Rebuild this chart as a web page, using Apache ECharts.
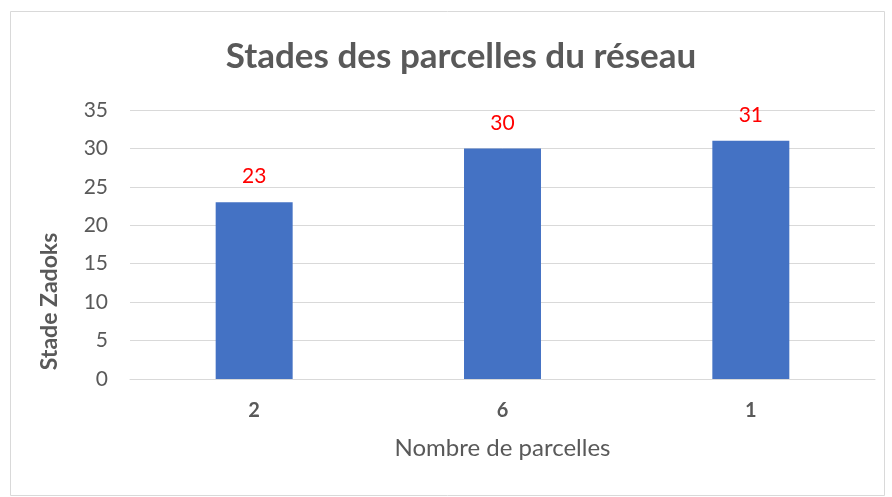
<!DOCTYPE html>
<html>
<head>
<meta charset="utf-8">
<script src="https://cdn.jsdelivr.net/npm/echarts@6/dist/echarts.min.js"></script>
<style>
  html, body { margin: 0; padding: 0; background: #fff; }
  #chart01 { width: 892px; height: 497px; }
</style>
</head>
<body>
<div id="chart01"></div>
<script>
// data
var categories = ['2', '6', '1'];
var stadeValues = [23, 30, 31];
var yTicks = { min: 0, max: 35, interval: 5 };

var chartDom = document.getElementById('chart01');
var chart = echarts.init(chartDom, null, { renderer: 'canvas' });

var font = 'Lato, "Open Sans", sans-serif';
var grey = '#595959';

var option = {
  backgroundColor: '#fff',
  textStyle: { fontFamily: font },
  title: {
    text: 'Stades des parcelles du réseau',
    left: 456,
    textAlign: 'center',
    top: 34,
    textStyle: { fontFamily: font, fontSize: 35, fontWeight: 'bold', color: grey }
  },
  graphic: [
    {
      type: 'rect',
      shape: { x: 10.5, y: 11.5, width: 874, height: 484 },
      style: { fill: 'none', stroke: '#D9D9D9', lineWidth: 1 },
      silent: true
    }
  ],
  grid: { left: 130, right: 17, top: 110, bottom: 118 },
  xAxis: {
    type: 'category',
    data: categories,
    axisTick: { show: false },
    axisLine: { lineStyle: { color: '#D9D9D9', width: 1 } },
    axisLabel: { fontFamily: font, fontSize: 20, fontWeight: 'bold', color: grey, margin: 22 },
    name: 'Nombre de parcelles',
    nameLocation: 'middle',
    nameGap: 57,
    nameTextStyle: { fontFamily: font, fontSize: 24, color: grey }
  },
  yAxis: {
    type: 'value',
    min: yTicks.min,
    max: yTicks.max,
    interval: yTicks.interval,
    axisLine: { show: false },
    axisTick: { show: false },
    splitLine: { lineStyle: { color: '#D9D9D9', width: 1 } },
    axisLabel: { fontFamily: font, fontSize: 21, color: grey, margin: 22 },
    name: 'Stade Zadoks',
    nameLocation: 'middle',
    nameGap: 69,
    nameTextStyle: { fontFamily: font, fontSize: 23, fontWeight: 'bold', color: grey, padding: [0, 114, 0, 0] }
  },
  series: [
    {
      name: 'Stade Zadoks',
      type: 'bar',
      data: stadeValues,
      barWidth: '31%',
      itemStyle: { color: '#4472C4' },
      label: {
        show: true,
        position: 'top',
        distance: 15,
        fontFamily: font,
        fontSize: 21,
        color: '#FF0000'
      }
    }
  ]
};

chart.setOption(option);
</script>
</body>
</html>
